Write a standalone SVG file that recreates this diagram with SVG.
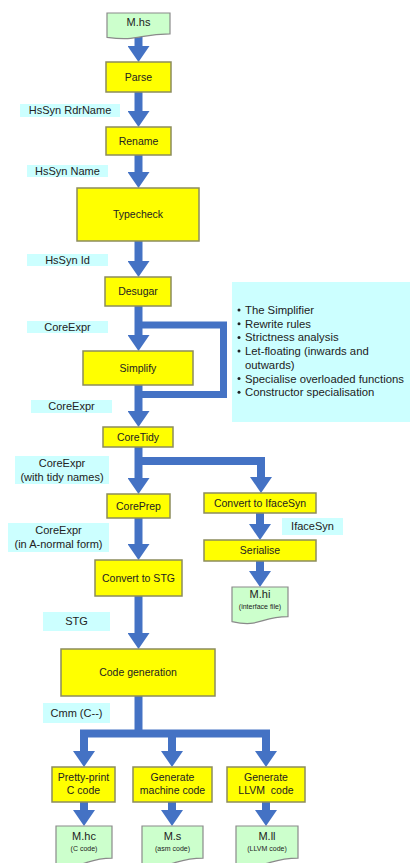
<svg xmlns="http://www.w3.org/2000/svg" width="410" height="863" viewBox="0 0 410 863">
  <style>
    .box { fill: #ffff00; stroke: #8c8c5c; stroke-width: 1.5; }
    .doc { fill: #ccffcc; stroke: #8a8a8a; stroke-width: 1.2; }
    .tag { fill: #ccffff; }
    .flow { fill: none; stroke: #4472c4; stroke-width: 8; stroke-linejoin: miter; }
    .loop { fill: none; stroke: #4472c4; stroke-width: 7; stroke-linejoin: miter; }
    text { font-family: "Liberation Sans", Arial, sans-serif; fill: #222; }
    .bt { font-size: 10.5px; text-anchor: middle; }
    .lt { font-size: 11px; text-anchor: middle; }
    .dt { font-size: 11px; text-anchor: middle; }
    .ds { font-size: 7px; text-anchor: middle; }
    .li { font-size: 11.3px; }
  </style>
  <defs>
    <marker id="head" viewBox="0 0 16 22" refX="1" refY="11" markerWidth="16" markerHeight="22" markerUnits="userSpaceOnUse" orient="auto">
      <path d="M0,0 L16,11 L0,22 Z" fill="#4472c4"/>
    </marker>
  </defs>

  <!-- cyan labels on the data between passes -->
  <g id="labels">
    <rect class="tag" x="20" y="104" width="100" height="13"/>
    <text class="lt" x="70" y="114.3">HsSyn RdrName</text>
    <rect class="tag" x="27" y="165" width="81" height="12"/>
    <text class="lt" x="67.5" y="174.8">HsSyn Name</text>
    <rect class="tag" x="27" y="254" width="81" height="12"/>
    <text class="lt" x="67.5" y="263.8">HsSyn Id</text>
    <rect class="tag" x="27" y="321" width="81" height="12"/>
    <text class="lt" x="67.5" y="330.8">CoreExpr</text>
    <rect class="tag" x="31" y="400" width="81" height="13"/>
    <text class="lt" x="71.5" y="410.3">CoreExpr</text>
    <rect class="tag" x="15" y="456" width="94" height="28"/>
    <text class="lt" x="62" y="467">CoreExpr</text>
    <text class="lt" x="62" y="480.5">(with tidy names)</text>
    <rect class="tag" x="282" y="518" width="61" height="17"/>
    <text class="lt" x="312.5" y="530.3">IfaceSyn</text>
    <rect class="tag" x="8" y="523" width="101" height="29"/>
    <text class="lt" x="58.5" y="534">CoreExpr</text>
    <text class="lt" x="58.5" y="547.5">(in A-normal form)</text>
    <rect class="tag" x="43" y="612" width="67" height="19"/>
    <text class="lt" x="76.5" y="625.3">STG</text>
    <rect class="tag" x="43" y="703" width="67" height="20"/>
    <text class="lt" x="76.5" y="716.8">Cmm (C--)</text>
  </g>

  <!-- what the simplifier does -->
  <g id="simplifier-notes">
    <rect class="tag" x="232" y="282" width="178" height="140"/>
    <g fill="#222">
      <circle cx="239" cy="310" r="1.5"/>
      <circle cx="239" cy="323.7" r="1.5"/>
      <circle cx="239" cy="337.4" r="1.5"/>
      <circle cx="239" cy="351.1" r="1.5"/>
      <circle cx="239" cy="378.5" r="1.5"/>
      <circle cx="239" cy="392.2" r="1.5"/>
    </g>
    <text class="li" x="245" y="314">The Simplifier</text>
    <text class="li" x="245" y="327.7">Rewrite rules</text>
    <text class="li" x="245" y="341.4">Strictness analysis</text>
    <text class="li" x="245" y="355.1">Let-floating (inwards and</text>
    <text class="li" x="245" y="368.8">outwards)</text>
    <text class="li" x="245" y="382.5">Specialise overloaded functions</text>
    <text class="li" x="245" y="396.2">Constructor specialisation</text>
  </g>

  <!-- pipeline arrows -->
  <g id="connectors">
    <path class="flow" d="M138.5,34 V47" marker-end="url(#head)"/>
    <path class="flow" d="M138.5,92 V112" marker-end="url(#head)"/>
    <path class="flow" d="M138.5,155 V173" marker-end="url(#head)"/>
    <path class="flow" d="M138.5,241 V262" marker-end="url(#head)"/>
    <path class="flow" d="M138.5,306 V336" marker-end="url(#head)"/>
    <path class="loop" d="M138.5,325 H223.5 V394.5 H138.5"/>
    <path class="flow" d="M138.5,385 V412" marker-end="url(#head)"/>
    <path class="flow" d="M138.5,447 V479" marker-end="url(#head)"/>
    <path class="flow" d="M138.5,461 H261 V478" marker-end="url(#head)"/>
    <path class="flow" d="M260,513 V525" marker-end="url(#head)"/>
    <path class="flow" d="M260,561 V572" marker-end="url(#head)"/>
    <path class="flow" d="M138.5,518 V545" marker-end="url(#head)"/>
    <path class="flow" d="M138.5,596 V634" marker-end="url(#head)"/>
    <path class="flow" d="M138.5,696 V733.5"/>
    <path class="flow" d="M84,752 V733.5 H266 V752" marker-end="url(#head)"/>
    <path class="flow" d="M84,737 V752" marker-end="url(#head)"/>
    <path class="flow" d="M172,733.5 V752" marker-end="url(#head)"/>
    <path class="flow" d="M84,802 V811" marker-end="url(#head)"/>
    <path class="flow" d="M172,802 V811" marker-end="url(#head)"/>
    <path class="flow" d="M266,802 V811" marker-end="url(#head)"/>
  </g>

  <g id="m-hs">
    <path class="doc" d="M107,13 H170 V33.9 C138.5,33.9 138.5,41.8 107,37.3 Z"/>
    <text class="dt" x="138.5" y="26">M.hs</text>
  </g>
  <g id="parse">
    <rect class="box" x="106" y="62" width="65" height="30"/>
    <text class="bt" x="138.5" y="80.7">Parse</text>
  </g>
  <g id="rename">
    <rect class="box" x="106" y="127" width="65" height="28"/>
    <text class="bt" x="138.5" y="144.7">Rename</text>
  </g>
  <g id="typecheck">
    <rect class="box" x="77" y="188" width="122" height="53"/>
    <text class="bt" x="138" y="218.2">Typecheck</text>
  </g>
  <g id="desugar">
    <rect class="box" x="105" y="277" width="66" height="29"/>
    <text class="bt" x="138" y="295">Desugar</text>
  </g>
  <g id="simplify">
    <rect class="box" x="83" y="351" width="110" height="34"/>
    <text class="bt" x="138" y="371.7">Simplify</text>
  </g>
  <g id="coretidy">
    <rect class="box" x="103" y="427" width="70" height="20"/>
    <text class="bt" x="138" y="440.7">CoreTidy</text>
  </g>
  <g id="coreprep">
    <rect class="box" x="107" y="494" width="63" height="24"/>
    <text class="bt" x="138.5" y="509.7">CorePrep</text>
  </g>
  <g id="convert-stg">
    <rect class="box" x="95" y="560" width="87" height="36"/>
    <text class="bt" x="138.5" y="581.7">Convert to STG</text>
  </g>
  <g id="codegen">
    <rect class="box" x="61" y="649" width="154" height="47"/>
    <text class="bt" x="138" y="676">Code generation</text>
  </g>
  <g id="convert-iface">
    <rect class="box" x="204" y="493" width="112" height="20"/>
    <text class="bt" x="260" y="506.7">Convert to IfaceSyn</text>
  </g>
  <g id="serialise">
    <rect class="box" x="204" y="540" width="112" height="21"/>
    <text class="bt" x="260" y="554.2">Serialise</text>
  </g>
  <g id="m-hi">
    <path class="doc" d="M232,587 H288 V616.7 C260,616.7 260,628 232,621.6 Z"/>
    <text class="dt" x="260" y="598">M.hi</text>
    <text class="ds" x="260" y="609">(interface file)</text>
  </g>
  <g id="pretty-c">
    <rect class="box" x="52" y="767" width="63" height="35"/>
    <text class="bt" x="83.5" y="780.5">Pretty-print</text>
    <text class="bt" x="83.5" y="794">C code</text>
  </g>
  <g id="gen-asm">
    <rect class="box" x="133" y="767" width="79" height="35"/>
    <text class="bt" x="172.5" y="780.5">Generate</text>
    <text class="bt" x="172.5" y="794">machine code</text>
  </g>
  <g id="gen-llvm">
    <rect class="box" x="227" y="767" width="78" height="35"/>
    <text class="bt" x="266" y="780.5">Generate</text>
    <text class="bt" x="266" y="794" xml:space="preserve">LLVM  code</text>
  </g>
  <g id="m-hc">
    <path class="doc" d="M56,826 H112 V858.1 C84,858.1 84,870.3 56,863.4 Z"/>
    <text class="dt" x="84" y="840">M.hc</text>
    <text class="ds" x="84" y="851">(C code)</text>
  </g>
  <g id="m-s">
    <path class="doc" d="M142,826 H203 V858.1 C172.5,858.1 172.5,870.3 142,863.4 Z"/>
    <text class="dt" x="172.5" y="840">M.s</text>
    <text class="ds" x="172.5" y="851">(asm code)</text>
  </g>
  <g id="m-ll">
    <path class="doc" d="M236,826 H298 V858.1 C267,858.1 267,870.3 236,863.4 Z"/>
    <text class="dt" x="267" y="840">M.ll</text>
    <text class="ds" x="267" y="851">(LLVM code)</text>
  </g>
</svg>
